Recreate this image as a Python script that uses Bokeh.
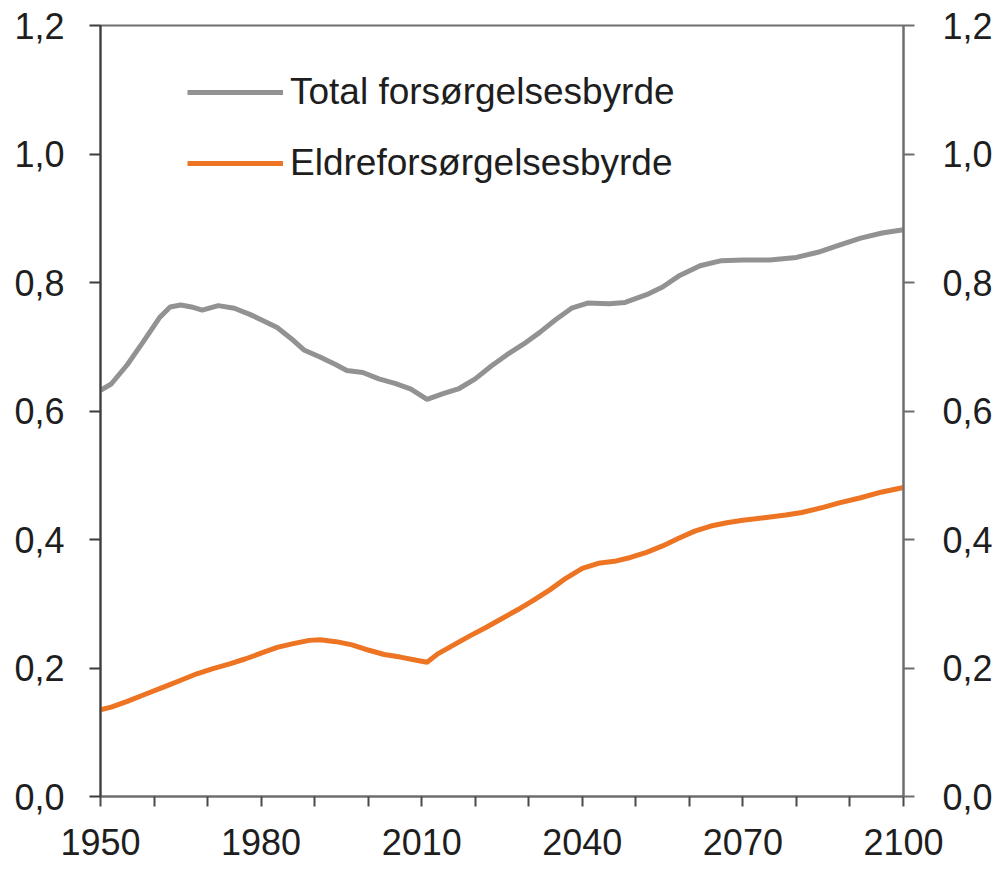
from bokeh.plotting import figure
from bokeh.models import (Range1d, LinearAxis, FixedTicker, CustomJSTickFormatter,
                          Legend, LegendItem)
from bokeh.embed import file_html
from bokeh.resources import INLINE

# ---- data ----
total_years = [1950, 1952, 1955, 1958, 1961, 1963, 1965, 1967, 1969, 1972, 1975, 1978,
               1980, 1983, 1986, 1988, 1991, 1994, 1996, 1999, 2002, 2005, 2008, 2011,
               2014, 2017, 2020, 2023, 2026, 2029, 2032, 2035, 2038, 2041, 2045, 2048,
               2052, 2055, 2058, 2062, 2066, 2070, 2075, 2080, 2084, 2088, 2092, 2096, 2100]
total_values = [0.632, 0.642, 0.672, 0.708, 0.745, 0.762, 0.765, 0.762, 0.757, 0.764, 0.760, 0.750,
                0.742, 0.730, 0.710, 0.695, 0.684, 0.672, 0.663, 0.660, 0.650, 0.643, 0.634, 0.618,
                0.627, 0.635, 0.650, 0.670, 0.688, 0.704, 0.722, 0.742, 0.760, 0.768, 0.767, 0.769,
                0.781, 0.793, 0.810, 0.826, 0.834, 0.835, 0.835, 0.839, 0.847, 0.858, 0.869, 0.877, 0.882]

elder_years = [1950, 1952, 1955, 1958, 1962, 1965, 1968, 1971, 1974, 1977, 1980, 1983, 1986,
               1989, 1991, 1994, 1997, 2000, 2003, 2006, 2009, 2011, 2013, 2016, 2019, 2022,
               2025, 2028, 2031, 2034, 2037, 2040, 2043, 2046, 2049, 2052, 2055, 2058, 2061,
               2064, 2067, 2070, 2074, 2078, 2081, 2085, 2088, 2092, 2096, 2100]
elder_values = [0.135, 0.139, 0.148, 0.158, 0.171, 0.181, 0.191, 0.199, 0.206, 0.214, 0.223, 0.232, 0.238,
                0.243, 0.244, 0.241, 0.236, 0.228, 0.221, 0.217, 0.212, 0.209, 0.222, 0.236, 0.250, 0.263,
                0.277, 0.291, 0.306, 0.322, 0.340, 0.355, 0.363, 0.366, 0.372, 0.380, 0.390, 0.402, 0.413,
                0.421, 0.426, 0.430, 0.434, 0.438, 0.442, 0.450, 0.457, 0.465, 0.474, 0.481]

series_labels = ["Total forsørgelsesbyrde", "Eldreforsørgelsesbyrde"]
x_ticks = list(range(1950, 2101, 10))
y_ticks = [0.0, 0.2, 0.4, 0.6, 0.8, 1.0, 1.2]

GRAY = "#929292"
ORANGE = "#ec7422"
FONT = "Liberation Sans"
FS = "36px"
TXT = "#1e1e1e"

p = figure(width=1000, height=870, output_backend="svg", toolbar_location=None,
           x_range=Range1d(1950, 2100), y_range=Range1d(0, 1.2),
           min_border_left=100, min_border_right=97, min_border_top=25, min_border_bottom=74)
p.grid.visible = False
p.background_fill_color = "white"
p.border_fill_color = "white"
p.outline_line_color = "#6e6e6e"
p.outline_line_width = 2

r1 = p.line(total_years, total_values, line_color=GRAY, line_width=5)
r2 = p.line(elder_years, elder_values, line_color=ORANGE, line_width=5)

yfmt = CustomJSTickFormatter(code="return tick.toFixed(1).replace('.', ',');")
xfmt = CustomJSTickFormatter(code="return ((tick - 1950) % 30 == 0) ? String(tick) : '';")

right = LinearAxis()
p.add_layout(right, "right")

for ax in [p.yaxis[0], right]:
    ax.ticker = FixedTicker(ticks=y_ticks)
    ax.formatter = yfmt

for ax in p.xaxis + p.yaxis:
    ax.major_tick_in = 0
    ax.major_tick_out = 11
    ax.minor_tick_line_color = None
    ax.major_label_text_font = FONT
    ax.major_label_text_font_size = FS
    ax.major_label_text_color = TXT
    ax.axis_line_width = 2
    ax.major_tick_line_width = 2

p.yaxis[0].axis_line_color = "#3c3c3c"
p.yaxis[0].major_tick_line_color = "#3c3c3c"
p.yaxis[0].major_label_standoff = 25
right.axis_line_color = "#6e6e6e"
right.major_tick_line_color = "#6e6e6e"
right.major_label_standoff = 28

xa = p.xaxis[0]
xa.ticker = FixedTicker(ticks=x_ticks)
xa.formatter = xfmt
xa.major_tick_out = 10
xa.major_label_standoff = 22
xa.axis_line_color = "#6e6e6e"
xa.major_tick_line_color = "#4a4a4a"

legend = Legend(items=[LegendItem(label=series_labels[0], renderers=[r1]),
                       LegendItem(label=series_labels[1], renderers=[r2])],
                location=(87, 612), padding=0, margin=0, spacing=29,
                glyph_width=96, glyph_height=40, label_height=40, label_standoff=7,
                label_text_font=FONT, label_text_font_size="37px", label_text_color=TXT,
                background_fill_alpha=0, border_line_alpha=0)
p.add_layout(legend)

open("out.html", "w").write(file_html(p, INLINE))
